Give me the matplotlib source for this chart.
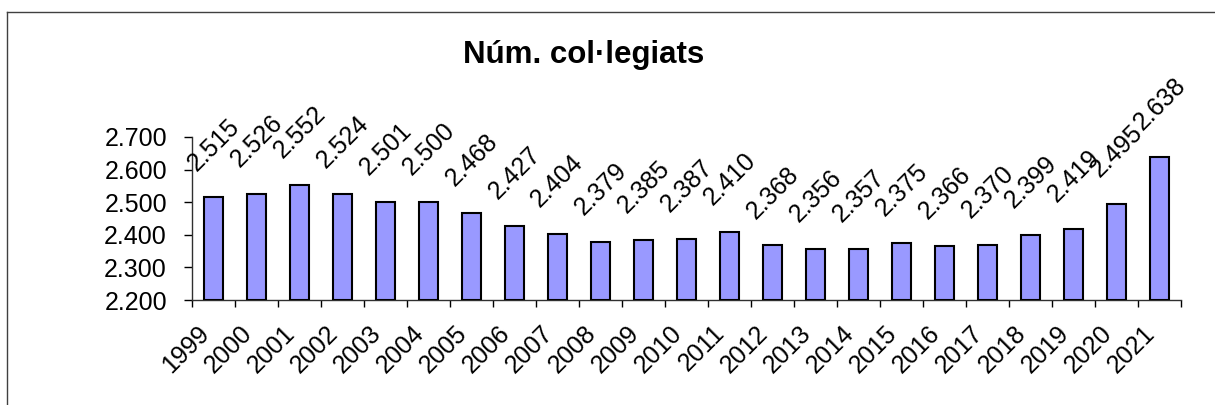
import numpy as np
import matplotlib.pyplot as plt
from matplotlib.ticker import FixedLocator, FuncFormatter

years = [str(y) for y in range(1999, 2022)]
members = [2515, 2526, 2552, 2524, 2501, 2500, 2468, 2427, 2404, 2379, 2385,
           2387, 2410, 2368, 2356, 2357, 2375, 2366, 2370, 2399, 2419, 2495, 2638]
yticks = [2200, 2300, 2400, 2500, 2600, 2700]


def dotted(v, pos=None):
    return '{:,}'.format(int(v)).replace(',', '.')


plt.rcParams['font.family'] = ['Liberation Sans', 'DejaVu Sans']

fig = plt.figure(figsize=(12.15, 4.05), dpi=100)
ax = fig.add_axes([0.158, 0.259, 0.814, 0.403])

x = np.arange(len(years))
ax.bar(x, [m - 2200 for m in members], bottom=2200, width=0.42,
       color='#9999FF', edgecolor='black', linewidth=1.5, zorder=3)

for xi, m in zip(x, members):
    ax.annotate(dotted(m), (xi, m), xytext=(0, 16), textcoords='offset points',
                ha='center', va='bottom', rotation=45, fontsize=18)

ax.set_xlim(-0.5, len(years) - 0.5)
ax.set_ylim(2200, 2700)
ax.set_yticks(yticks)
ax.yaxis.set_major_formatter(FuncFormatter(dotted))
ax.tick_params(axis='y', labelsize=18, length=6, width=1, pad=12)

ax.set_xticks(x)
ax.set_xticklabels(years, rotation=45, ha='right', fontsize=18)
ax.tick_params(axis='x', which='major', length=0, pad=15)
ax.xaxis.set_minor_locator(FixedLocator(np.arange(len(years) + 1) - 0.5))
ax.tick_params(axis='x', which='minor', length=5, width=1)

for s in ['top', 'right']:
    ax.spines[s].set_visible(False)
for s in ['left', 'bottom']:
    ax.spines[s].set_linewidth(1)
    ax.spines[s].set_color('#303030')

fig.text(0.48, 0.865, 'Núm. col·legiats', ha='center', va='center',
         fontsize=22.5, fontweight='bold')

# chart frame (only top and left edges fall inside the picture)
fig.add_artist(plt.Line2D([7 / 1215, 7 / 1215], [0, 1 - 11.5 / 405],
                          transform=fig.transFigure, color='#404040', lw=1))
fig.add_artist(plt.Line2D([7 / 1215, 1], [1 - 11.5 / 405, 1 - 11.5 / 405],
                          transform=fig.transFigure, color='#404040', lw=1))

fig.savefig('out.png', dpi=100)
